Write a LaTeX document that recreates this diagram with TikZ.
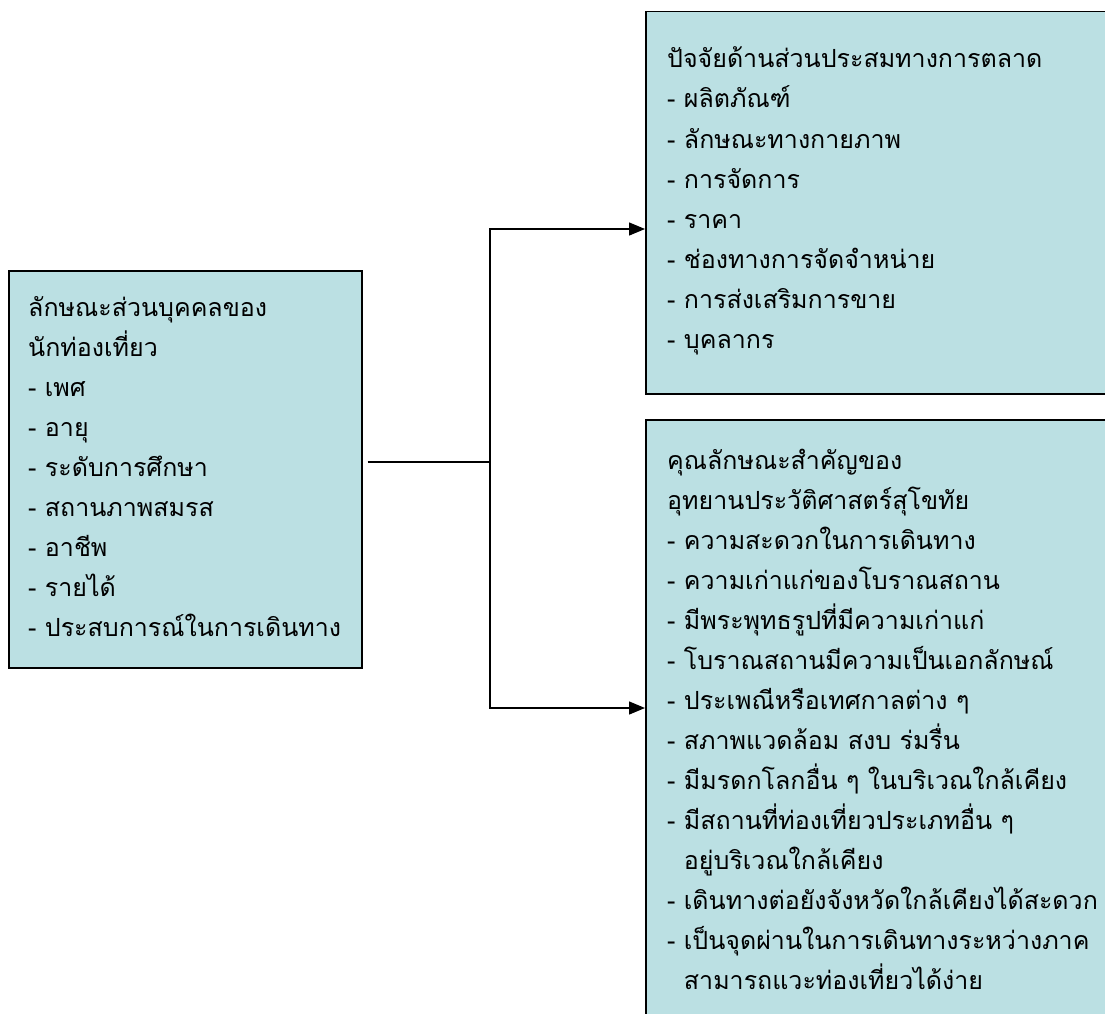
\documentclass[tikz,border=0pt]{standalone}
\usepackage{fontspec}
\newfontfamily\thaifont[Script=Thai]{Loma}
\usetikzlibrary{arrows.meta}
\definecolor{boxfill}{HTML}{BBE0E3}
\tikzset{
  box/.style={draw=black, line width=1.5pt, fill=boxfill, inner sep=0pt, anchor=north west},
  txt/.style={anchor=base west, inner sep=0pt, font=\thaifont\fontsize{25}{40}\selectfont},
  conn/.style={line width=1.4pt},
  arr/.style={conn, -{Triangle[length=16pt,width=13pt]}}
}
\begin{document}
\begin{tikzpicture}[x=1pt,y=-1pt]
\useasboundingbox (0,0) rectangle (1105,1014);
\clip (0,0) rectangle (1105,1014);
\fill[white] (0,0) rectangle (1105,1014);
% boxes
\node[box, minimum width=353pt, minimum height=397pt] (pers) at (8,270) {};
\node[box, minimum width=480pt, minimum height=382pt] (mix) at (645,11) {};
\node[box, minimum width=480pt, minimum height=620pt] (attr) at (645,419) {};
% texts
\foreach \t [count=\i] in {{ลักษณะส่วนบุคคลของ},{นักท่องเที่ยว},{- เพศ},{- อายุ},{- ระดับการศึกษา},{- สถานภาพสมรส},{- อาชีพ},{- รายได้},{- ประสบการณ์ในการเดินทาง}}
  \node[txt] (p\i) at (28,276+40*\i) {\t};
\foreach \t [count=\i] in {{ปัจจัยด้านส่วนประสมทางการตลาด},{- ผลิตภัณฑ์},{- ลักษณะทางกายภาพ},{- การจัดการ},{- ราคา},{- ช่องทางการจัดจำหน่าย},{- การส่งเสริมการขาย},{- บุคลากร}}
  \node[txt] (m\i) at (667,28+40*\i) {\t};
\foreach \t [count=\i] in {{คุณลักษณะสำคัญของ},{อุทยานประวัติศาสตร์สุโขทัย},{- ความสะดวกในการเดินทาง},{- ความเก่าแก่ของโบราณสถาน},{- มีพระพุทธรูปที่มีความเก่าแก่},{- โบราณสถานมีความเป็นเอกลักษณ์},{- ประเพณีหรือเทศกาลต่าง ๆ},{- สภาพแวดล้อม สงบ ร่มรื่น},{- มีมรดกโลกอื่น ๆ ในบริเวณใกล้เคียง},{- มีสถานที่ท่องเที่ยวประเภทอื่น ๆ},{\hphantom{- }อยู่บริเวณใกล้เคียง},{- เดินทางต่อยังจังหวัดใกล้เคียงได้สะดวก},{- เป็นจุดผ่านในการเดินทางระหว่างภาค},{\hphantom{- }สามารถแวะท่องเที่ยวได้ง่าย}}
  \node[txt] (a\i) at (667,429+40*\i) {\t};
% connectors
\coordinate (j) at (490,462);
\coordinate (ts) at (645,229);
\coordinate (bs) at (645,708);
\draw[conn] ([xshift=5pt]pers.east |- j) -- (j);
\draw[arr] (j) |- (ts);
\draw[arr] (j) |- (bs);
\end{tikzpicture}
\end{document}
